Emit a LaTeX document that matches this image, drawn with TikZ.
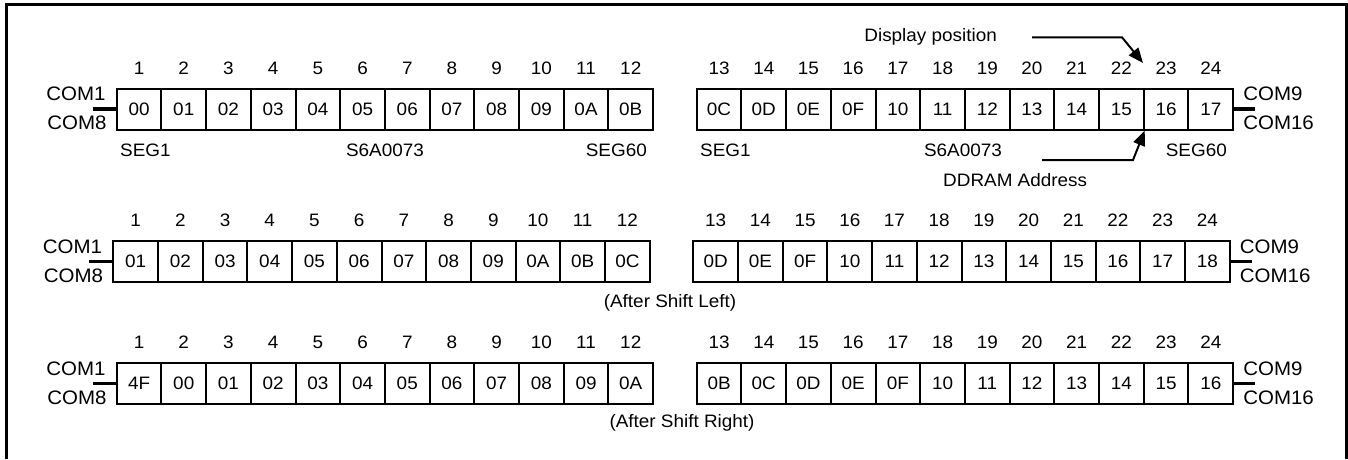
\documentclass[tikz,border=0pt]{standalone}
\usepackage{fontspec}
\setmainfont{Liberation Sans}[FakeStretch=1.05]
\usetikzlibrary{arrows.meta,positioning}

\begin{document}
\begin{tikzpicture}[x=1pt,y=-1pt,font=\fontsize{18}{21}\selectfont]
		\tikzstyle{Cell}	= [rectangle, draw, line width=2pt, minimum width=44.7pt, minimum height=41pt, inner sep=0pt]
		\tikzstyle{Label}	= [inner sep=0pt]
		\tikzstyle{Com}		= [inner sep=0pt, font=\fontsize{19.5}{22}\selectfont]
		\tikzstyle{Stub}	= [line width=3.5pt]
		\tikzstyle{Pointer}	= [line width=2pt, -{Triangle[length=15pt,width=12pt]}]

		\useasboundingbox (0,0) rectangle (1348,459);
		\draw [line width=3pt] (6,459) -- (6,4) -- (1346,4) -- (1346,459);

		% three rows of DDRAM addresses
		\foreach \r/\xl/\xr/\yc/\vals in {
			1/116.7/696.7/109/{00,01,02,03,04,05,06,07,08,09,0A,0B,0C,0D,0E,0F,10,11,12,13,14,15,16,17},
			2/113.3/693.3/261.7/{01,02,03,04,05,06,07,08,09,0A,0B,0C,0D,0E,0F,10,11,12,13,14,15,16,17,18},
			3/116.7/696.7/383.3/{4F,00,01,02,03,04,05,06,07,08,09,0A,0B,0C,0D,0E,0F,10,11,12,13,14,15,16}} {
			\foreach \v [count=\i] in \vals {
				\pgfmathsetmacro\xc{\i<13 ? \xl+(\i-0.5)*44.7 : \xr+(\i-12.5)*44.7}
				\node (c\r-\i) at (\xc,\yc) [Cell] {\v};
				\node (n\r-\i) at (\xc,\yc-41) [Label] {\i};
			}
			\node (com1-\r) at (\xl-11,\yc-15) [Com, anchor=east] {COM1};
			\node (com8-\r) at (\xl-10,\yc+14) [Com, anchor=east] {COM8};
			\node (com9-\r) at (\xr+546.4,\yc-15) [Com, anchor=west] {COM9};
			\node (com16-\r) at (\xr+546.4,\yc+14) [Com, anchor=west] {COM16};
			\coordinate (sl\r) at (\xl-24,\yc);
			\coordinate (sr\r) at (\xr+558.4,\yc);
			\draw (sl\r) -- (c\r-1.west) [Stub];
			\draw (c\r-24.east) -- (sr\r) [Stub];
		}

		\node (segA) at (120,150) [Label, anchor=west] {SEG1};
		\node (chipA) at (385,150) [Label] {S6A0073};
		\node (segB) at (647,150) [Label, anchor=east] {SEG60};
		\node (segC) at (700,150) [Label, anchor=west] {SEG1};
		\node (chipB) at (963,150) [Label] {S6A0073};
		\node (segD) at (1227,150) [Label, anchor=east] {SEG60};

		\node (disp) at (997,37) [Label, anchor=east] {Display position};
		\node (ddram) at (943,180) [Label, anchor=west] {DDRAM Address};
		\coordinate (dispTip) at (1143,63);
		\draw (1032,37.3) -- (1122,37.3) -- (dispTip) [Pointer];
		\draw (1042,160) -- (1133,160) -- (c1-22.south east) [Pointer];

		\node (left) at (670,302.7) [Label] {(After Shift Left)};
		\node (right) at (682,423) [Label] {(After Shift Right)};
	\end{tikzpicture}
\end{document}
